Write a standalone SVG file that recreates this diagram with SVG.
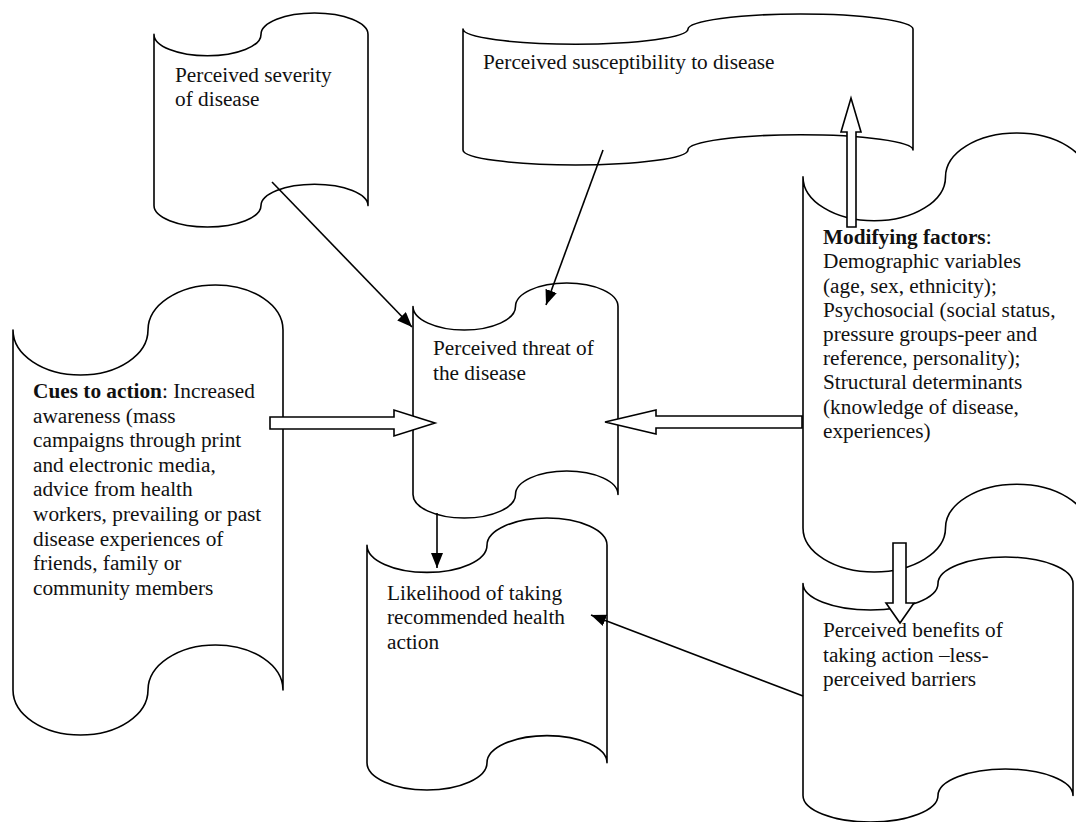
<svg xmlns="http://www.w3.org/2000/svg" width="1076" height="822" viewBox="0 0 1076 822">
<style>
.box{fill:#fff;stroke:#000;stroke-width:1.6;stroke-linejoin:round}
.t{font-family:"Liberation Serif","Times New Roman",serif;font-size:21.3px;fill:#111}
.b{font-weight:bold}
.ln{stroke:#000;stroke-width:1.6;fill:none}
.blk{fill:#fff;stroke:#000;stroke-width:1.6;stroke-linejoin:miter}
</style>
<defs>
<marker id="ah" markerUnits="userSpaceOnUse" markerWidth="15" markerHeight="12" refX="15" refY="6" orient="auto">
<path d="M0,0 L15,6 L0,12 z" fill="#000"/>
</marker>
</defs>
<rect width="1076" height="822" fill="#fff"/>

<g id="severity">
<path class="box" d="M154,34.4 A53.5,21.4 0 0 0 261,34.4 A53.5,21.4 0 0 1 368,34.4 L368,205.6 A53.5,21.4 0 0 0 261,205.6 A53.5,21.4 0 0 1 154,205.6 Z"/>
<text class="t" x="175" y="82">Perceived severity</text>
<text class="t" x="175" y="106">of disease</text>
</g>

<g id="susceptibility">
<path class="box" d="M463,29.1 A112.5,15.1 0 0 0 688,29.1 A112.5,15.1 0 0 1 913,29.1 L913,149.9 A112.5,15.1 0 0 0 688,149.9 A112.5,15.1 0 0 1 463,149.9 Z"/>
<text class="t" x="483" y="69">Perceived susceptibility to disease</text>
</g>

<g id="modifying">
<path class="box" d="M803,176.9 A71.25,43.9 0 0 0 945.5,176.9 A71.25,43.9 0 0 1 1088,176.9 L1088,528.1 A71.25,43.9 0 0 0 945.5,528.1 A71.25,43.9 0 0 1 803,528.1 Z"/>
<text class="t" x="823" y="244"><tspan class="b">Modifying factors</tspan>:</text>
<text class="t" x="823" y="268">Demographic variables</text>
<text class="t" x="823" y="292.5">(age, sex, ethnicity);</text>
<text class="t" x="823" y="316.5">Psychosocial (social status,</text>
<text class="t" x="823" y="341">pressure groups-peer and</text>
<text class="t" x="823" y="365">reference, personality);</text>
<text class="t" x="823" y="389">Structural determinants</text>
<text class="t" x="823" y="413.5">(knowledge of disease,</text>
<text class="t" x="823" y="437.5">experiences)</text>
</g>

<g id="cues">
<path class="box" d="M13,330 A67.5,45 0 0 0 148,330 A67.5,45 0 0 1 283,330 L283,690 A67.5,45 0 0 0 148,690 A67.5,45 0 0 1 13,690 Z"/>
<text class="t" x="33" y="398"><tspan class="b">Cues to action</tspan>: Increased</text>
<text class="t" x="33" y="422.6">awareness (mass</text>
<text class="t" x="33" y="447.2">campaigns through print</text>
<text class="t" x="33" y="471.8">and electronic media,</text>
<text class="t" x="33" y="496.4">advice from health</text>
<text class="t" x="33" y="521">workers, prevailing or past</text>
<text class="t" x="33" y="545.6">disease experiences of</text>
<text class="t" x="33" y="570.2">friends, family or</text>
<text class="t" x="33" y="594.8">community members</text>
</g>

<g id="threat">
<path class="box" d="M413,306.5 A51.25,23.5 0 0 0 515.5,306.5 A51.25,23.5 0 0 1 618,306.5 L618,494.5 A51.25,23.5 0 0 0 515.5,494.5 A51.25,23.5 0 0 1 413,494.5 Z"/>
<text class="t" x="433" y="355">Perceived threat of</text>
<text class="t" x="433" y="380">the disease</text>
</g>

<g id="likelihood">
<path class="box" d="M367,545.2 A60,27.2 0 0 0 487,545.2 A60,27.2 0 0 1 607,545.2 L607,762.8 A60,27.2 0 0 0 487,762.8 A60,27.2 0 0 1 367,762.8 Z"/>
<text class="t" x="387" y="600">Likelihood of taking</text>
<text class="t" x="387" y="624">recommended health</text>
<text class="t" x="387" y="649">action</text>
</g>

<g id="benefits">
<path class="box" d="M803,583.5 A67.5,26.5 0 0 0 938,583.5 A67.5,26.5 0 0 1 1073,583.5 L1073,795.5 A67.5,26.5 0 0 0 938,795.5 A67.5,26.5 0 0 1 803,795.5 Z"/>
<text class="t" x="823" y="637">Perceived benefits of</text>
<text class="t" x="823" y="661.5">taking action –less-</text>
<text class="t" x="823" y="686">perceived barriers</text>
</g>

<g id="connectors">
<line class="ln" x1="272" y1="182" x2="412" y2="327" marker-end="url(#ah)"/>
<line class="ln" x1="603" y1="150" x2="546" y2="305" marker-end="url(#ah)"/>
<line class="ln" x1="437" y1="513" x2="437" y2="568" marker-end="url(#ah)"/>
<line class="ln" x1="803" y1="696" x2="591" y2="615" marker-end="url(#ah)"/>
<polygon class="blk" points="270,417 394,417 394,410 435,423 394,436 394,429 270,429"/>
<polygon class="blk" points="802,416 656,416 656,410 605,422 656,434 656,428 802,428"/>
<polygon class="blk" points="847,227 847,132 841,132 851,98 861,132 856,132 856,227"/>
<polygon class="blk" points="893,543 906,543 906,603 914,603 900,623 886,603 893,603"/>
</g>
</svg>
